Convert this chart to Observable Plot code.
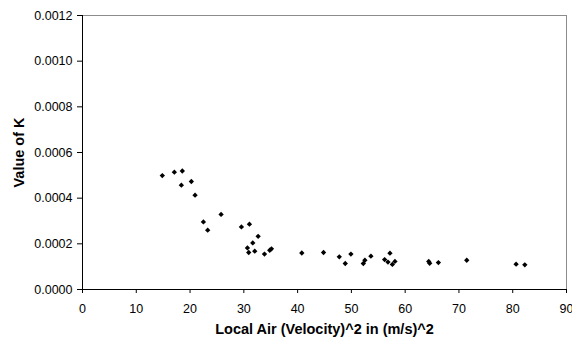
<!DOCTYPE html>
<html>
<head>
<meta charset="utf-8">
<script src="https://cdn.jsdelivr.net/npm/d3@7"></script>
<script src="https://cdn.jsdelivr.net/npm/@observablehq/plot@0.6"></script>
<style>
  html, body { margin: 0; padding: 0; background: #fff; }
  svg { font-family: "Liberation Sans", Arial, sans-serif; }
  g[aria-label="x-axis label"] text { font-weight: bold; font-size: 14.5px; }
  g[aria-label="y-axis label"] text { font-weight: bold; font-size: 14.5px; }
</style>
</head>
<body>
<div id="chart"></div>
<script>
const velocity2 = [14.84, 17.08, 18.56, 18.38, 20.24, 20.93, 25.77, 22.48, 23.28, 29.55,
  31.04, 32.66, 31.66, 30.67, 30.91, 32.03, 33.84, 34.82, 35.14, 40.78,
  44.82, 47.75, 48.86, 49.91, 52.22, 52.51, 53.63, 56.18, 57.17, 56.80,
  57.62, 58.10, 64.38, 64.56, 66.18, 71.45, 80.63, 82.25];
const kValues = [0.000499, 0.000514, 0.000519, 0.000457, 0.000473, 0.000413, 0.000329, 0.000296, 0.000260, 0.000274,
  0.000286, 0.000233, 0.000204, 0.000182, 0.000162, 0.000168, 0.000155, 0.000172, 0.000178, 0.000160,
  0.000162, 0.000143, 0.000114, 0.000155, 0.000114, 0.000128, 0.000146, 0.000131, 0.000159, 0.000120,
  0.000110, 0.000123, 0.000123, 0.000115, 0.000118, 0.000128, 0.000111, 0.000108];
const xTicks = [0, 10, 20, 30, 40, 50, 60, 70, 80, 90];
const yTicks = [0, 0.0002, 0.0004, 0.0006, 0.0008, 0.0010, 0.0012];
const xTitle = "Local Air (Velocity)^2 in (m/s)^2";
const yTitle = "Value of K";

const data = velocity2.map((v, i) => ({v, k: kValues[i]}));

const chart = Plot.plot({
  width: 572,
  height: 341,
  marginLeft: 82,
  marginRight: 6,
  marginTop: 15,
  marginBottom: 52,
  style: {fontSize: "12.5px", fontFamily: "Liberation Sans, Arial, sans-serif", color: "#000", background: "#fff"},
  x: {domain: [0, 90]},
  y: {domain: [0, 0.0012]},
  marks: [
    Plot.frame({stroke: "#8c8c8c"}),
    Plot.ruleX([0], {stroke: "#000"}),
    Plot.ruleY([0], {stroke: "#000"}),
    Plot.axisX({ticks: xTicks, tickFormat: d3.format("d"), tickSize: 4, tickPadding: 11, stroke: "#000",
      label: xTitle, labelAnchor: "center", labelOffset: 44, labelArrow: "none"}),
    Plot.axisY({ticks: yTicks, tickFormat: d3.format(".4f"), tickSize: 5, tickPadding: 5, stroke: "#000",
      label: yTitle, labelAnchor: "center", labelOffset: 69, labelArrow: "none"}),
    Plot.dot(data, {x: "v", y: "k", symbol: "diamond2", r: 2.4, fill: "#000", stroke: "none"})
  ]
});
document.getElementById("chart").appendChild(chart);
</script>
</body>
</html>
